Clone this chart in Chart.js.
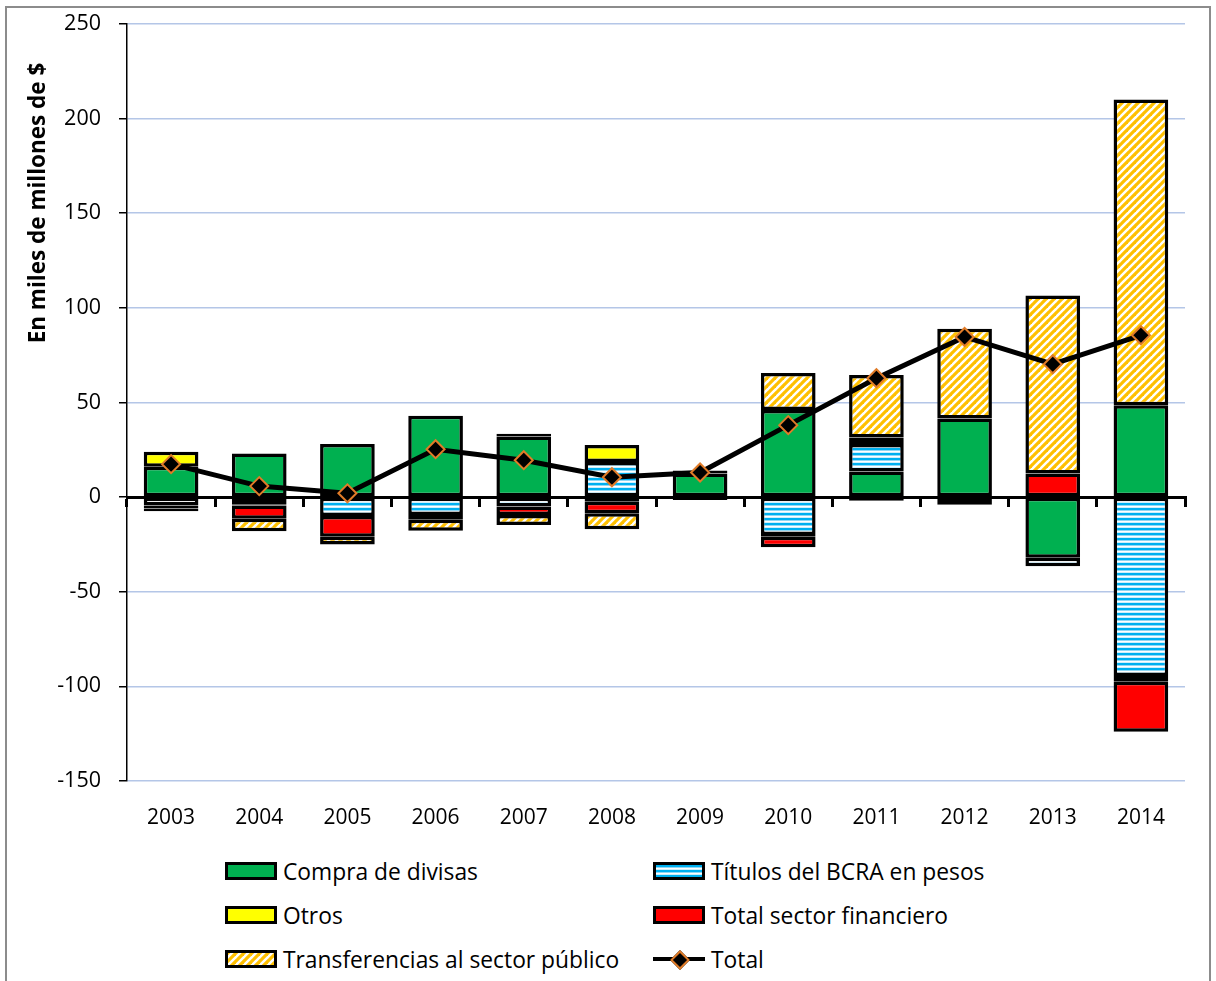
<!DOCTYPE html>
<html>
<head>
    <meta charset="utf-8">
    <title>Emisión monetaria por factores</title>
    <style>
        html, body { margin: 0; padding: 0; background: #fff; }
        body { width: 1216px; height: 981px; overflow: hidden; position: relative; font-family: 'Open Sans', sans-serif; }
        .frame { position: absolute; left: 5px; top: 6px; width: 1206px; height: 1000px; border: 2px solid #8c8c8c; box-sizing: border-box; }
        #chartBox { position: absolute; left: 0; top: -7px; width: 1216px; height: 840px; }
        .y-title { position: absolute; left: -163px; top: 189px; width: 400px; text-align: center; font-weight: bold; font-size: 22.5px; line-height: 28px; transform: rotate(-90deg); color: #000; }
        .legend { position: absolute; left: 225px; top: 857px; display: grid; grid-template-columns: 428px auto; grid-auto-rows: 44px; font-size: 22.8px; color: #000; }
        .legend-item { display: flex; align-items: center; height: 28px; }
        .swatch { width: 52px; height: 18px; box-sizing: border-box; border: 3px solid #000; margin-right: 6px; }
        .line-swatch { width: 52px; height: 18px; margin-right: 6px; position: relative; }
        .line-swatch .bar { position: absolute; left: 0; right: 0; top: 7px; height: 4px; background: #000; }
        .line-swatch .dot { position: absolute; left: 20px; top: 3px; width: 10px; height: 10px; background: #000; border: 2px solid #e07b28; transform: rotate(45deg); }
    </style>
</head>
<body>
    <div class="frame"></div>
    <div id="chartBox"><canvas id="factoresChart" width="1216" height="840"></canvas></div>
    <div class="y-title">En miles de millones de $</div>
    <div class="legend" id="legend"></div>

    <script src="https://cdn.jsdelivr.net/npm/chart.js"></script>
    <script>
        const years = ['2003', '2004', '2005', '2006', '2007', '2008', '2009', '2010', '2011', '2012', '2013', '2014'];
        const compraDivisas = [16, 23, 28, 43, 32, -2.5, 12.5, 46, 13.5, 41.5, -32, 48.5];
        const titulosBcra = [-4.5, -4, -10, -9.5, -5, 18.5, -1.5, -20, 14.5, -4, -4.5, -94.5];
        const otros = [8, -0.5, 0, 0, 1.5, 9, 1.5, -1, -2, 0, 0, -3];
        const sectorFinanciero = [-1.5, -7, -11, -2.5, -4.5, -6, 0, -5.5, 3.5, 0, 12.5, -26.5];
        const transferencias = [-1.5, -6.5, -4, -5.8, -5.3, -8.5, 0, 19.5, 33, 47.5, 94, 161.5];
        const total = [17.4, 5.8, 2, 25.3, 19.5, 10.5, 13, 38, 62.8, 84.6, 70.2, 85.5];
        const yTicks = [-150, -100, -50, 0, 50, 100, 150, 200, 250];

        // horizontal light-blue stripes
        function stripeCanvas() {
            const c = document.createElement('canvas');
            c.width = 4; c.height = 5;
            const g = c.getContext('2d');
            const rows = ['#00B0F0', '#00B0F0', '#8fd8f6', '#ffffff', '#cdeffc'];
            rows.forEach((col, i) => { g.fillStyle = col; g.fillRect(0, i, 4, 1); });
            return c;
        }

        // orange diagonal hatch
        function hatchCanvas() {
            const c = document.createElement('canvas');
            c.width = 8; c.height = 8;
            const g = c.getContext('2d');
            g.fillStyle = '#fff';
            g.fillRect(0, 0, 8, 8);
            g.strokeStyle = '#FFC000';
            g.lineWidth = 3.2;
            [[-4, 4, 4, -4], [0, 8, 8, 0], [4, 12, 12, 4]].forEach(l => {
                g.beginPath(); g.moveTo(l[0], l[1]); g.lineTo(l[2], l[3]); g.stroke();
            });
            return c;
        }

        const ctx = document.getElementById('factoresChart').getContext('2d');
        const stripes = stripeCanvas();
        const hatch = hatchCanvas();
        const stripePattern = ctx.createPattern(stripes, 'repeat');
        const hatchPattern = ctx.createPattern(hatch, 'repeat');

        function barSet(label, data, fill) {
            return {
                type: 'bar',
                label: label,
                data: data,
                backgroundColor: fill,
                borderColor: '#000',
                borderWidth: 3.5,
                borderSkipped: false,
                inflateAmount: 0,
                barPercentage: 0.62,
                categoryPercentage: 1,
                stack: 'factores'
            };
        }

        const chart = new Chart(ctx, {
            data: {
                labels: years,
                datasets: [
                    barSet('Compra de divisas', compraDivisas, '#00B050'),
                    barSet('Títulos del BCRA en pesos', titulosBcra, stripePattern),
                    barSet('Otros', otros, '#FFFF00'),
                    barSet('Total sector financiero', sectorFinanciero, '#FF0000'),
                    barSet('Transferencias al sector público', transferencias, hatchPattern),
                    {
                        type: 'line',
                        label: 'Total',
                        data: total,
                        order: -1,
                        stack: 'total',
                        borderColor: '#000',
                        borderWidth: 5,
                        tension: 0,
                        pointStyle: 'rectRot',
                        pointRadius: 9,
                        pointBackgroundColor: '#000',
                        pointBorderColor: '#e07b28',
                        pointBorderWidth: 2
                    }
                ]
            },
            options: {
                responsive: false,
                animation: false,
                layout: { padding: { left: 0, right: 31, top: 16, bottom: 0 } },
                plugins: { legend: { display: false }, tooltip: { enabled: false } },
                scales: {
                    x: {
                        stacked: true,
                        offset: true,
                        grid: { display: false, drawTicks: false },
                        border: { display: false },
                        ticks: { color: '#000', font: { family: 'Open Sans', size: 21 }, padding: 24 },
                        afterFit: s => { s.height = 52; }
                    },
                    xZero: {
                        type: 'category',
                        position: { y: 0 },
                        offset: true,
                        grid: { offset: true, drawOnChartArea: false, drawTicks: true, tickLength: 8, color: '#000', lineWidth: 3 },
                        border: { display: true, color: '#000', width: 3 },
                        ticks: { display: false }
                    },
                    y: {
                        stacked: true,
                        min: -150,
                        max: 250,
                        afterBuildTicks: s => { s.ticks = yTicks.map(v => ({ value: v })); },
                        grid: { color: '#b4c6e7', lineWidth: 1.5, tickColor: '#000', tickLength: 8 },
                        border: { color: '#000', width: 1.5 },
                        ticks: { color: '#000', font: { family: 'Open Sans', size: 21.5 }, padding: 18 },
                        afterFit: s => { s.width = 127; }
                    }
                }
            }
        });

        // two-column legend built from the chart's datasets
        const legend = document.getElementById('legend');
        chart.data.datasets.forEach(ds => {
            const item = document.createElement('div');
            item.className = 'legend-item';
            let sw;
            if (ds.type === 'line') {
                sw = document.createElement('div');
                sw.className = 'line-swatch';
                sw.innerHTML = '<div class="bar"></div><div class="dot"></div>';
            } else {
                sw = document.createElement('div');
                sw.className = 'swatch';
                if (ds.backgroundColor === stripePattern) {
                    sw.style.background = 'url(' + stripes.toDataURL() + ')';
                } else if (ds.backgroundColor === hatchPattern) {
                    sw.style.background = 'url(' + hatch.toDataURL() + ')';
                } else {
                    sw.style.background = ds.backgroundColor;
                }
            }
            const txt = document.createElement('span');
            txt.textContent = ds.label;
            item.appendChild(sw);
            item.appendChild(txt);
            legend.appendChild(item);
        });
    </script>
</body>
</html>
